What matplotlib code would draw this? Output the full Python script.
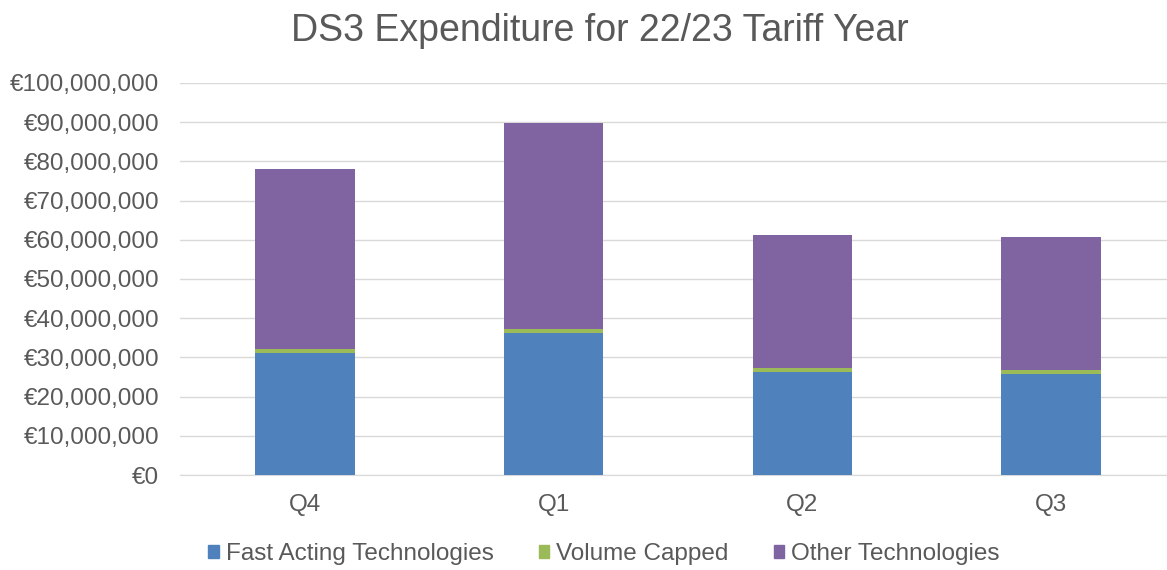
import matplotlib
matplotlib.use("Agg")
import matplotlib.pyplot as plt
from matplotlib.ticker import FuncFormatter
from matplotlib.patches import Patch

plt.rcParams['font.family'] = ['Liberation Sans', 'DejaVu Sans']

quarters = ["Q4", "Q1", "Q2", "Q3"]
fast_acting = [31.2e6, 36.1e6, 26.3e6, 25.8e6]
volume_capped = [1.0e6, 1.1e6, 0.9e6, 1.0e6]
other_tech = [45.9e6, 52.6e6, 34.0e6, 33.9e6]

c_blue = "#4F81BD"
c_green = "#9BBB59"
c_purple = "#8064A2"

fig = plt.figure(figsize=(11.67, 5.70), dpi=100)
ax = fig.add_axes([180/1167, 1-475/570, 1-180/1167, (475-83)/570])

x = list(range(len(quarters)))
w = 0.40
ax.bar(x, fast_acting, w, color=c_blue, zorder=3, label="Fast Acting Technologies")
b2 = [f for f in fast_acting]
ax.bar(x, volume_capped, w, bottom=b2, color=c_green, zorder=3, label="Volume Capped")
b3 = [f + v for f, v in zip(fast_acting, volume_capped)]
ax.bar(x, other_tech, w, bottom=b3, color=c_purple, zorder=3, label="Other Technologies")

ax.set_xlim(-0.503, 3.466)
ax.set_ylim(0, 100e6)
ax.set_yticks([i * 10e6 for i in range(11)])
ax.yaxis.set_major_formatter(FuncFormatter(lambda v, p: "€{:,.0f}".format(v)))
ax.set_xticks(x)
ax.set_xticklabels(quarters)
ax.grid(axis="y", color="#D9D9D9", linewidth=1.0, zorder=0)
for s in ["top", "right", "left"]:
    ax.spines[s].set_visible(False)
ax.spines["bottom"].set_color("#D9D9D9")
ax.tick_params(axis="both", length=0, labelsize=17.5, colors="#595959")
ax.tick_params(axis="y", pad=15)
ax.tick_params(axis="x", pad=14)

fig.text(600/1167, 1-31/570, "DS3 Expenditure for 22/23 Tariff Year", ha="center", va="center",
         fontsize=27, color="#595959")

handles = [Patch(color=c_blue), Patch(color=c_green), Patch(color=c_purple)]
labels = ["Fast Acting Technologies", "Volume Capped", "Other Technologies"]
fig.legend(handles, labels, loc="center", bbox_to_anchor=(604/1167, 1-554/570), ncol=3, frameon=False,
           fontsize=17.5, handlelength=0.42, handleheight=0.42, handletextpad=0.3, columnspacing=1.85,
           labelcolor="#595959")

fig.savefig("out.png", dpi=100)
